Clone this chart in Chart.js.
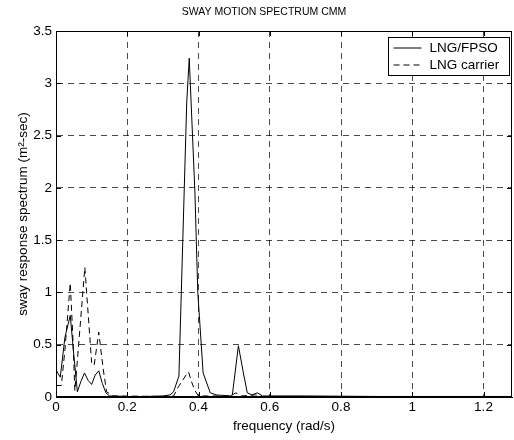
<!DOCTYPE html>
<html>
<head>
<meta charset="utf-8">
<script src="https://cdn.jsdelivr.net/npm/chart.js@4/dist/chart.umd.min.js"></script>
<style>
  html, body { margin: 0; padding: 0; background: #fff; }
  #wrap { width: 514px; height: 440px; }
</style>
</head>
<body>
<div id="wrap"><canvas id="spectrum" width="514" height="440"></canvas></div>
<script>
// values
const fpsoFreq = [0, 0.012, 0.025, 0.04, 0.05, 0.06, 0.07, 0.08, 0.09, 0.10, 0.11, 0.12, 0.13, 0.14, 0.15,
  0.20, 0.25, 0.30, 0.32, 0.33, 0.345, 0.367, 0.374, 0.39, 0.398, 0.413, 0.433, 0.45, 0.49, 0.495,
  0.512, 0.526, 0.537, 0.55, 0.565, 0.58, 0.7, 0.9, 1.1, 1.28];
const fpsoSway = [0.26, 0.19, 0.57, 0.78, 0.40, 0.05, 0.15, 0.23, 0.16, 0.12, 0.21, 0.25, 0.13, 0.04, 0.01,
  0.005, 0.005, 0.01, 0.02, 0.05, 0.20, 2.82, 3.24, 1.95, 1.0, 0.23, 0.04, 0.02, 0.01, 0.02,
  0.49, 0.23, 0.04, 0.02, 0.04, 0.01, 0.01, 0.005, 0.005, 0.005];

const carrierFreq = [0, 0.015, 0.025, 0.04, 0.047, 0.053, 0.06, 0.081, 0.10, 0.107, 0.12, 0.132, 0.142, 0.16,
  0.30, 0.33, 0.344, 0.367, 0.372, 0.379, 0.39, 0.40, 0.49, 0.505, 0.52, 0.56, 0.58, 1.28];
const carrierSway = [0.11, 0.11, 0.45, 1.09, 0.60, 0.06, 0.35, 1.24, 0.33, 0.30, 0.62, 0.28, 0.05, 0.01,
  0.005, 0.01, 0.10, 0.22, 0.24, 0.16, 0.06, 0.01, 0.01, 0.04, 0.01, 0.02, 0.005, 0.005];

const seriesNames = ['LNG/FPSO', 'LNG carrier'];
const xTickStep = 0.2;
const yTickStep = 0.5;

function toPoints(xs, ys) {
  return xs.map((x, i) => ({ x: x, y: ys[i] }));
}

// matlab style labels: 1 not 1.0
function plainTick(v) {
  return String(+v.toFixed(2));
}

const family = '"Liberation Sans", Arial, sans-serif';
const font = { family: family, size: 13.5 };

// box around the axes, inward tick marks and the legend
const boxPlugin = {
  id: 'box',
  afterDraw(chart) {
    const ctx = chart.ctx;
    const a = chart.chartArea;
    const xs = chart.scales.x, ys = chart.scales.y;
    ctx.save();
    ctx.strokeStyle = '#000';
    ctx.lineWidth = 1;
    ctx.setLineDash([]);
    ctx.strokeRect(a.left + 0.5, a.top + 0.5, a.right - a.left - 1, a.bottom - a.top - 1);
    ctx.beginPath();
    xs.ticks.forEach(t => {
      const px = Math.round(xs.getPixelForValue(t.value)) + 0.5;
      ctx.moveTo(px, a.bottom); ctx.lineTo(px, a.bottom - 5);
      ctx.moveTo(px, a.top); ctx.lineTo(px, a.top + 5);
    });
    ys.ticks.forEach(t => {
      const py = Math.round(ys.getPixelForValue(t.value)) + 0.5;
      ctx.moveTo(a.left, py); ctx.lineTo(a.left + 5, py);
      ctx.moveTo(a.right, py); ctx.lineTo(a.right - 5, py);
    });
    ctx.stroke();

    // legend
    const bw = 121, bh = 38;
    const bx = a.right - bw - 2.5, by = a.top + 6.5;
    ctx.fillStyle = '#fff';
    ctx.fillRect(bx, by, bw, bh);
    ctx.strokeRect(bx, by, bw, bh);
    ctx.font = '13.5px ' + family;
    ctx.textBaseline = 'middle';
    ctx.fillStyle = '#000';
    chart.data.datasets.forEach((ds, i) => {
      const ly = by + 10 + i * 17;
      ctx.beginPath();
      ctx.setLineDash(ds.borderDash || []);
      ctx.moveTo(bx + 5, ly + 0.5);
      ctx.lineTo(bx + 33, ly + 0.5);
      ctx.stroke();
      ctx.setLineDash([]);
      ctx.fillText(ds.label, bx + 41, ly + 1);
    });
    ctx.restore();
  }
};

const ctx = document.getElementById('spectrum').getContext('2d');
const chart = new Chart(ctx, {
  type: 'scatter',
  data: {
    datasets: [{
      label: seriesNames[0],
      data: toPoints(fpsoFreq, fpsoSway),
      showLine: true,
      borderColor: '#000',
      borderWidth: 1,
      pointRadius: 0,
      tension: 0
    }, {
      label: seriesNames[1],
      data: toPoints(carrierFreq, carrierSway),
      showLine: true,
      borderColor: '#000',
      borderWidth: 1,
      borderDash: [6, 4],
      pointRadius: 0,
      tension: 0
    }]
  },
  options: {
    responsive: false,
    animation: false,
    layout: { padding: { left: 16, right: 2, top: 0, bottom: 0 } },
    plugins: {
      legend: { display: false },
      tooltip: { enabled: false },
      title: {
        display: true,
        text: 'SWAY MOTION SPECTRUM CMM',
        color: '#000',
        font: { family: family, size: 10.5, weight: 'normal' },
        padding: { top: 6, bottom: 12.4 }
      }
    },
    scales: {
      x: {
        type: 'linear',
        min: 0,
        max: 1.28,
        afterFit(scale) { scale.height = 43; },
        ticks: { stepSize: xTickStep, includeBounds: false, color: '#000', font: font, padding: 2, maxRotation: 0, callback: plainTick },
        grid: { color: 'rgba(0,0,0,0.7)', lineWidth: 1, tickLength: 0, drawTicks: false },
        border: { display: true, color: '#000', dash: [6, 5] },
        title: { display: true, text: 'frequency (rad/s)', color: '#000', font: font, padding: { top: 6, bottom: 6 } }
      },
      y: {
        type: 'linear',
        min: 0,
        max: 3.5,
        afterFit(scale) { scale.width = 40; },
        ticks: { stepSize: yTickStep, color: '#000', font: font, padding: 4, callback: plainTick },
        grid: { color: 'rgba(0,0,0,0.7)', lineWidth: 1, tickLength: 0, drawTicks: false },
        border: { display: true, color: '#000', dash: [6, 5] },
        title: { display: true, text: 'sway response spectrum (m²-sec)', color: '#000', font: font, padding: { top: -1, bottom: 0 } }
      }
    }
  },
  plugins: [boxPlugin]
});
</script>
</body>
</html>
